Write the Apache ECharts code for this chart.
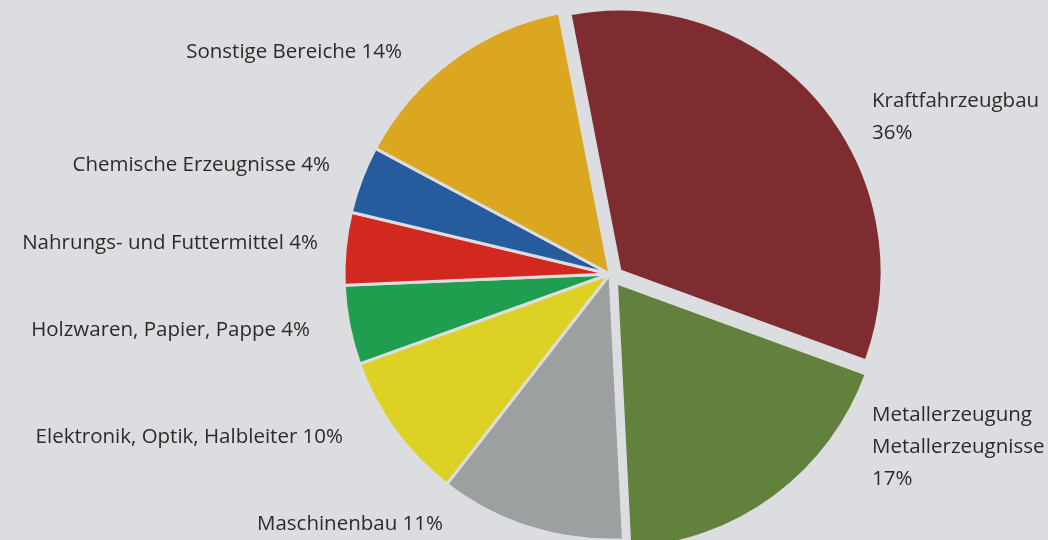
<!DOCTYPE html>
<html>
<head>
    <meta charset="utf-8">
    <title>Branchen</title>
    <script src="https://cdn.jsdelivr.net/npm/echarts@6/dist/echarts.min.js"></script>
    <style>
        html, body { margin: 0; padding: 0; background: #dcdde0; }
        #box { width: 1048px; height: 540px; }
    </style>
</head>
<body>
    <div id="box"></div>
    <script>
        // Reihenfolge im Uhrzeigersinn, Start oben (Kraftfahrzeugbau)
        var names = ['Kraftfahrzeugbau', 'Metallerzeugung\nMetallerzeugnisse', 'Maschinenbau',
            'Elektronik, Optik, Halbleiter', 'Holzwaren, Papier, Pappe', 'Nahrungs- und Futtermittel',
            'Chemische Erzeugnisse', 'Sonstige Bereiche'];
        // Sektorgroessen wie im Bild gemessen
        var shares = [33.6, 18.6, 11.3, 9.0, 4.8, 4.4, 4.1, 14.1];
        // gedruckte Prozentangaben
        var printed = ['36%', '17%', '11%', '10%', '4%', '4%', '4%', '14%'];
        var colors = ['#7e2c30', '#62813c', '#9ca0a1', '#ded126', '#1f9e50', '#d1281f', '#265b9d', '#dba620'];

        var bg = '#dcdde0';
        var C = [610, 274], R = 266;
        // herausgezogene Sektoren: index -> [center, radius]
        var pulled = { 0: [[620, 271], 262], 1: [[616.5, 282.8], 266] };

        // Beschriftungsanker [x, y, align]
        var labelPos = [
            [872, 117, 'left'], [872, 447, 'left'], [443, 524, 'right'], [343, 437, 'right'],
            [310, 330, 'right'], [318, 243, 'right'], [330, 165, 'right'], [402, 52, 'right']
        ];

        function pieData(visible) {
            return names.map(function (n, i) {
                var on = visible(i);
                return {
                    name: n,
                    value: shares[i],
                    itemStyle: on ? { color: colors[i] } : { color: 'transparent', borderWidth: 0 }
                };
            });
        }

        var base = {
            type: 'pie',
            startAngle: 101,
            clockwise: true,
            avoidLabelOverlap: false,
            silent: true,
            emphasis: { disabled: true },
            itemStyle: { borderColor: bg, borderWidth: 3 },
            labelLine: { show: false },
            label: { show: false }
        };

        var series = [echarts.util.merge({
            center: C,
            radius: R,
            label: {
                show: true,
                position: 'outside',
                color: '#2b2b2b',
                fontFamily: 'Open Sans',
                fontSize: 20.5,
                lineHeight: 32,
                formatter: function (p) {
                    var sep = p.dataIndex < 2 ? '\n' : ' ';
                    return p.name + sep + printed[p.dataIndex];
                }
            },
            labelLayout: function (p) {
                var a = labelPos[p.dataIndex];
                return { x: a[0], y: a[1], align: a[2], verticalAlign: 'middle' };
            },
            data: pieData(function (i) { return !pulled[i]; })
        }, base)];

        Object.keys(pulled).forEach(function (k) {
            var idx = +k;
            series.push(echarts.util.merge({
                center: pulled[k][0],
                radius: pulled[k][1],
                data: pieData(function (i) { return i === idx; })
            }, base));
        });

        var myChart = echarts.init(document.getElementById('box'));
        myChart.setOption({
            backgroundColor: bg,
            animation: false,
            series: series
        });
    </script>
</body>
</html>
